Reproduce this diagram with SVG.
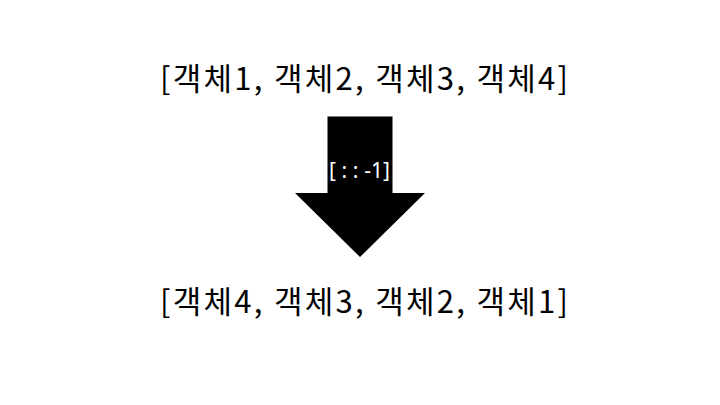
<svg xmlns="http://www.w3.org/2000/svg" width="720" height="405" viewBox="0 0 720 405">
<style>
.list{font-family:"Noto Sans CJK KR","Noto Sans",sans-serif;font-size:31px;fill:#000;text-anchor:middle}
.lbl{font-family:"Noto Sans","Liberation Sans",sans-serif;font-size:21px;fill:#fff;text-anchor:middle}
</style>
<rect width="720" height="405" fill="#fff"/>
<g id="top-list"><text class="list" x="364" y="90" textLength="408" lengthAdjust="spacing">[객체1, 객체2, 객체3, 객체4]</text></g>
<g id="connectors">
<g id="arrow">
<polygon points="327.5,116.5 392.5,116.5 392.5,193 425,193 360,257 295,193 327.5,193" fill="#000"/>
<text class="lbl" x="359.5" y="178" textLength="61" lengthAdjust="spacing">[ : : -1]</text>
</g>
</g>
<g id="bottom-list"><text class="list" x="364" y="313" textLength="408" lengthAdjust="spacing">[객체4, 객체3, 객체2, 객체1]</text></g>
</svg>
